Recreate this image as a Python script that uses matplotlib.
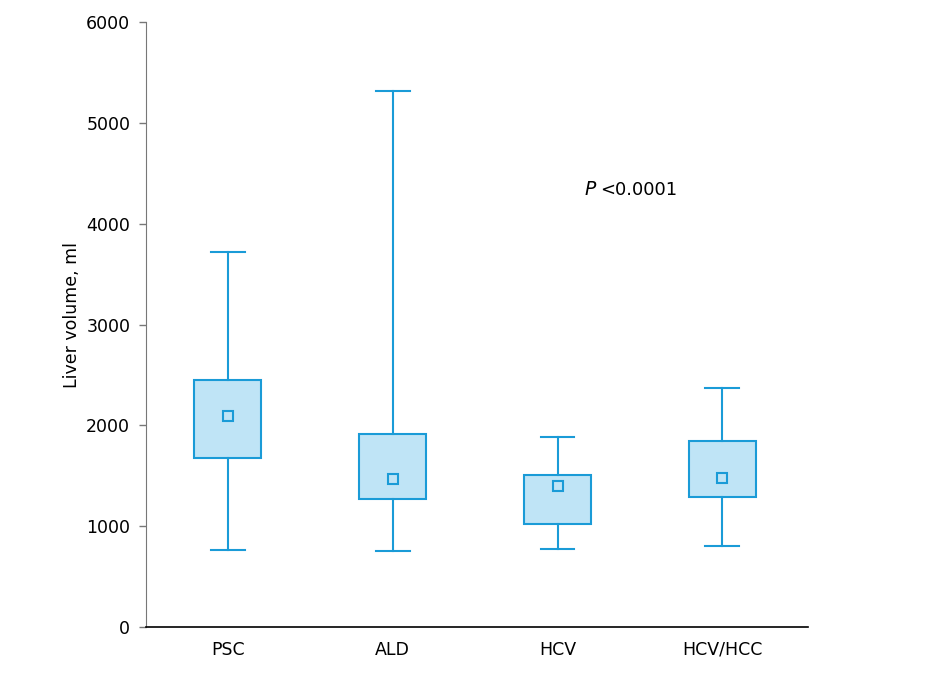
import matplotlib
matplotlib.use("Agg")
import matplotlib.pyplot as plt

plt.rcParams['font.family'] = ['DejaVu Sans Condensed', 'DejaVu Sans']

categories = ["PSC", "ALD", "HCV", "HCV/HCC"]
whisker_low = [764, 754, 774, 803]
q1 = [1676, 1270, 1021, 1289]
means = [2093, 1468, 1398, 1478]
q3 = [2450, 1914, 1507, 1845]
whisker_high = [3719, 5316, 1884, 2370]
yticks = [0, 1000, 2000, 3000, 4000, 5000, 6000]

edge = "#1a9bd7"
fill = "#bfe4f6"

fig = plt.figure(figsize=(9.51, 6.88), dpi=100)
ax = fig.add_axes([145.5/951, 61/688, (808-145.5)/951, (627-22)/688])

stats = []
for i, c in enumerate(categories):
    stats.append(dict(label=c, whislo=whisker_low[i], q1=q1[i], med=q1[i],
                      q3=q3[i], whishi=whisker_high[i], mean=means[i], fliers=[]))

pos = list(range(1, len(categories) + 1))
ax.bxp(stats, positions=pos, widths=0.406, patch_artist=True, showmeans=True,
       showfliers=False,
       boxprops=dict(facecolor=fill, edgecolor=edge, linewidth=1.5),
       whiskerprops=dict(color=edge, linewidth=1.5),
       capprops=dict(color=edge, linewidth=1.5),
       capwidths=0.206,
       medianprops=dict(linewidth=0, alpha=0),
       meanprops=dict(marker="s", markerfacecolor=fill, markeredgecolor=edge,
                      markersize=6.5, markeredgewidth=1.5))

ax.set_xlim(0.5, 4.52)
ax.set_ylim(0, 6000)
ax.set_yticks(yticks)
ax.set_yticklabels([str(t) for t in yticks], fontsize=12.5)
ax.set_xticks(pos)
ax.set_xticklabels(categories, fontsize=12.5)
ax.tick_params(axis='x', length=0, pad=10)
ax.tick_params(axis='y', length=5, color="#777777", width=1, pad=6)
for s in ["top", "right"]:
    ax.spines[s].set_visible(False)
ax.spines["left"].set_color("#777777")
ax.spines["bottom"].set_color("black")
ax.spines["bottom"].set_linewidth(1.2)
lab = ax.set_ylabel("Liver volume, ml", fontsize=12.5)
lab.set_va("center")
ax.yaxis.set_label_coords(-0.111, 0.515)

ax.text(3.16, 4334, "$P$", fontsize=13.5, va="center", ha="left",
        fontfamily="DejaVu Sans")
ax.text(3.26, 4334, "<0.0001", fontsize=13, va="center", ha="left")

fig.savefig("out.png", dpi=100)
